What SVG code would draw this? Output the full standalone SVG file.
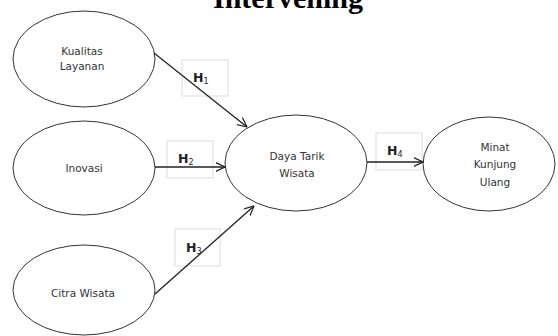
<svg xmlns="http://www.w3.org/2000/svg" width="558" height="336" viewBox="0 0 558 336">
  <style>
    .node ellipse { fill: #ffffff; stroke: #333333; stroke-width: 1; }
    .node text { font-family: "DejaVu Sans", "Liberation Sans", sans-serif; font-size: 10.5px; fill: #333333; text-anchor: middle; }
    .conn line { stroke: #222222; stroke-width: 1.3; marker-end: url(#arrow); }
    .lbl rect { fill: none; stroke: #dddddd; stroke-width: 1; }
    .lbl text { font-family: "DejaVu Sans", "Liberation Sans", sans-serif; font-size: 12.5px; font-weight: bold; fill: #222222; }
    .lbl tspan.sub { font-size: 8px; font-weight: normal; }
    .title { font-family: "Liberation Serif", "Times New Roman", serif; font-size: 30px; font-weight: bold; fill: #000000; text-anchor: middle; }
  </style>
  <defs>
    <marker id="arrow" viewBox="0 0 10 10" refX="9.5" refY="5" markerWidth="10" markerHeight="10" markerUnits="userSpaceOnUse" orient="auto">
      <path d="M0,0.5 L9.5,5 L0,9.5" fill="none" stroke="#222222" stroke-width="1.2"/>
    </marker>
  </defs>
  <rect width="558" height="336" fill="#ffffff"/>
  <text class="title" x="288" y="8">Intervening</text>

  <g id="kualitas-layanan" class="node">
    <ellipse cx="84" cy="59" rx="71" ry="48"/>
    <text x="82" y="55">Kualitas</text>
    <text x="82" y="70">Layanan</text>
  </g>
  <g id="inovasi" class="node">
    <ellipse cx="84" cy="168" rx="71" ry="47"/>
    <text x="84" y="172">Inovasi</text>
  </g>
  <g id="citra-wisata" class="node">
    <ellipse cx="84" cy="290" rx="71" ry="45"/>
    <text x="83" y="297">Citra Wisata</text>
  </g>
  <g id="daya-tarik-wisata" class="node">
    <ellipse cx="296" cy="163" rx="71" ry="48"/>
    <text x="297" y="160">Daya Tarik</text>
    <text x="297" y="177">Wisata</text>
  </g>
  <g id="minat-kunjung-ulang" class="node">
    <ellipse cx="489" cy="164" rx="66" ry="47"/>
    <text x="495" y="151">Minat</text>
    <text x="495" y="168">Kunjung</text>
    <text x="495" y="186">Ulang</text>
  </g>

  <g id="labels" class="lbl">
    <rect x="182" y="60" width="46" height="36"/>
    <text x="193" y="82">H<tspan class="sub" dy="2">1</tspan></text>
    <rect x="167" y="141" width="46" height="37"/>
    <text x="178" y="163">H<tspan class="sub" dy="2">2</tspan></text>
    <rect x="175" y="229" width="45" height="37"/>
    <text x="186" y="252">H<tspan class="sub" dy="2">3</tspan></text>
    <rect x="376" y="133" width="46" height="37"/>
    <text x="387" y="155">H<tspan class="sub" dy="2">4</tspan></text>
  </g>

  <g id="connectors" class="conn">
    <line x1="154" y1="53" x2="247" y2="127"/>
    <line x1="155" y1="167" x2="225" y2="167"/>
    <line x1="155" y1="294" x2="254" y2="206"/>
    <line x1="367" y1="162" x2="423" y2="162"/>
  </g>
</svg>
